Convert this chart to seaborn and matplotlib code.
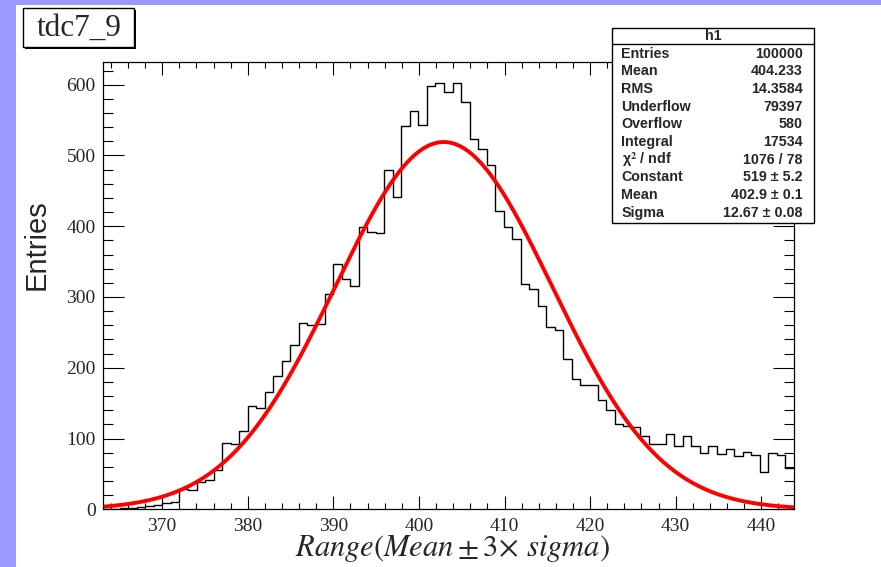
import numpy as np
import pandas as pd
import matplotlib
matplotlib.use("Agg")
import matplotlib.pyplot as plt
import seaborn as sns
from matplotlib.patches import Rectangle
from matplotlib.ticker import MultipleLocator

# ---------------- data ----------------
title = "tdc7_9"
x_min, x_max = 363.05, 443.8
counts = [1, 1, 2, 2, 3, 4, 6, 9, 11, 28,
          27, 39, 41, 55, 94, 92, 110, 146, 143, 166,
          188, 210, 232, 263, 261, 262, 304, 347, 325, 315,
          399, 392, 390, 479, 442, 542, 563, 543, 598, 603,
          590, 603, 575, 523, 509, 487, 421, 399, 382, 318,
          311, 287, 258, 254, 213, 184, 176, 175, 154, 141,
          120, 118, 117, 104, 92, 92, 107, 89, 103, 89,
          79, 90, 78, 85, 76, 81, 77, 53, 80, 77,
          59]
fit_constant, fit_mean, fit_sigma = 519.0, 402.9, 12.67
x_ticks = [370, 380, 390, 400, 410, 420, 430, 440]
y_ticks = [0, 100, 200, 300, 400, 500, 600]
y_max = 632.5
stats_title = "h1"
stats_labels = ["Entries", "Mean", "RMS", "Underflow", "Overflow", "Integral",
                r"$\mathregular{\chi}^{\mathbf{2}}$ / ndf", "Constant", "Mean", "Sigma"]
stats_values = ["100000", "404.233", "14.3584", "79397", "580", "17534",
                "1076 / 78", "519 \u00b1 5.2", "402.9 \u00b1 0.1", "12.67 \u00b1 0.08"]
x_label = r"$Range(Mean \pm 3\!\times\, sigma)$"
y_label = "Entries"

# ---------------- figure ----------------
W, H = 881, 567
sns.set_theme(style="white")
plt.rcParams["font.family"] = ["Liberation Serif", "DejaVu Serif"]
plt.rcParams["mathtext.fontset"] = "stix"

fig = plt.figure(figsize=(W / 100, H / 100), dpi=100)
fig.patch.set_facecolor("#9999ff")
fig.patches.append(Rectangle((16 / W, 0), 1 - 16 / W, 1 - 5 / H, transform=fig.transFigure,
                             facecolor="white", edgecolor="none", zorder=-5))

def fx(px):
    return px / W

def fy(py):
    return 1 - py / H

ax_l, ax_r, ax_t, ax_b = 102.7, 793.8, 61.7, 509.3
ax = fig.add_axes([fx(ax_l), fy(ax_b), fx(ax_r) - fx(ax_l), fy(ax_t) - fy(ax_b)])
ax.set_facecolor("white")

edges = np.linspace(x_min, x_max, len(counts) + 1)
centers = (edges[:-1] + edges[1:]) / 2
df = pd.DataFrame({"x": centers, "w": counts})
sns.histplot(data=df, x="x", weights="w", bins=edges.tolist(), element="step", fill=False,
             color="black", linewidth=1.0, ax=ax)

xs = np.linspace(x_min, x_max, 500)
ys = fit_constant * np.exp(-0.5 * ((xs - fit_mean) / fit_sigma) ** 2)
sns.lineplot(x=xs, y=ys, color="#ff0000", linewidth=2.8, ax=ax)

ax.set_xlim(x_min, x_max)
ax.set_ylim(0, y_max)
ax.set_xlabel("")
ax.set_ylabel("")
ax.set_xticks(x_ticks)
ax.set_yticks(y_ticks)
ax.xaxis.set_minor_locator(MultipleLocator(2))
ax.yaxis.set_minor_locator(MultipleLocator(20))
ax.tick_params(which="both", direction="in", top=True, right=True, bottom=True, left=True,
               color="black", width=0.8)
ax.tick_params(axis="x", which="major", length=9.2, labelsize=14, pad=6)
ax.tick_params(axis="x", which="minor", length=4.5)
ax.tick_params(axis="y", which="major", length=15, labelsize=14, pad=5)
ax.tick_params(axis="y", which="minor", length=7.2)
for s in ax.spines.values():
    s.set_color("black")
    s.set_linewidth(0.9)

# axis titles
fig.text(fx(452), fy(549), x_label, ha="center", va="center", fontsize=22)
fig.text(fx(37), fy(245), y_label, ha="center", va="center", rotation=90, fontsize=21,
         family=["Liberation Sans", "DejaVu Sans"])

# title box with shadow
tb_l, tb_t, tb_r, tb_b = 23, 8, 134, 47
fig.patches.append(Rectangle((fx(tb_l + 2), fy(tb_b + 2)), fx(tb_r) - fx(tb_l), fy(tb_t) - fy(tb_b),
                             transform=fig.transFigure, facecolor="black", edgecolor="none", zorder=3))
fig.patches.append(Rectangle((fx(tb_l), fy(tb_b)), fx(tb_r) - fx(tb_l), fy(tb_t) - fy(tb_b),
                             transform=fig.transFigure, facecolor="white", edgecolor="black",
                             linewidth=1.0, zorder=4))
fig.text(fx((tb_l + tb_r) / 2 + 1), fy((tb_t + tb_b) / 2 + 1), title, ha="center", va="center",
         fontsize=22.5, zorder=5)

# stats box
sb_l, sb_t, sb_r, sb_b = 612, 28, 814, 222.5
fig.patches.append(Rectangle((fx(sb_l), fy(sb_b)), fx(sb_r) - fx(sb_l), fy(sb_t) - fy(sb_b),
                             transform=fig.transFigure, facecolor="white", edgecolor="black",
                             linewidth=1.0, zorder=6))
fig.add_artist(plt.Line2D([fx(sb_l), fx(sb_r)], [fy(44), fy(44)], transform=fig.transFigure,
                          color="black", linewidth=1.0, zorder=7))
sans_bold = dict(family=["Liberation Sans", "DejaVu Sans"], fontweight="bold", fontsize=10.3, zorder=8)
fig.text(fx(713), fy(36), stats_title, ha="center", va="center", **sans_bold)
row0, dy = 53.5, 17.7
for i, (lab, val) in enumerate(zip(stats_labels, stats_values)):
    y = fy(row0 + i * dy)
    fig.text(fx(621.5), y, lab, ha="left", va="center", **sans_bold)
    fig.text(fx(802.5), y, val, ha="right", va="center", **sans_bold)

fig.savefig("out.png", dpi=100, facecolor=fig.get_facecolor())
